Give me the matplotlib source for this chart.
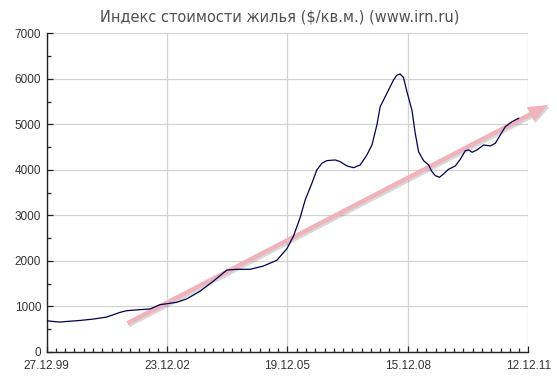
import matplotlib
matplotlib.use("Agg")
from matplotlib import pyplot as plt
from matplotlib import patheffects as pe
from matplotlib.ticker import MultipleLocator

# weeks since 27.12.99 and index value ($ per sq.m.)
weeks = [0, 17.2, 25.9, 43.2, 60.4, 77.8, 95.0, 103.7, 121, 134, 146.9, 156.9,
         168.5, 181.5, 198.7, 216, 233.4, 246.3, 263.6, 280.8, 298.2, 311.2,
         319.7, 328.4, 334.9, 343.6, 350, 356.5, 363, 373.8, 380.3, 389, 397.5,
         406.2, 414.9, 421.4, 427.8, 432.1, 440.8, 449.4, 453.5, 458, 462.3, 466.7,
         473.2, 477.5, 481.8, 488.3, 494.8, 499.2, 503.5, 509, 514.2, 520.7,
         529.4, 535.9, 542.4, 546.7, 551.1, 557.5, 566.1, 574.8, 581.3, 587.7,
         594.2, 602.9, 611.5]
price = [680, 651, 665, 687, 718, 762, 865, 902, 925, 940, 1035, 1058,
         1087, 1162, 1330, 1552, 1796, 1812, 1812, 1885, 2011, 2265,
         2540, 2950, 3338, 3705, 3998, 4145, 4203, 4218, 4180, 4086, 4048,
         4108, 4328, 4548, 4988, 5390, 5685, 5978, 6080, 6110, 6030, 5720,
         5318, 4805, 4400, 4203, 4108, 3960, 3873, 3837, 3910, 4013,
         4086, 4233, 4422, 4438, 4387, 4438, 4548, 4526, 4585, 4768,
         4950, 5060, 5135]

tick_weeks = [0, 156, 312, 468, 624]
tick_labels = ["27.12.99", "23.12.02", "19.12.05", "15.12.08", "12.12.11"]

# trend arrow: tail and tip
trend_start = (104.5, 625)
trend_end = (650, 5428)

fig = plt.figure(figsize=(5.57, 3.78), dpi=100)
ax = fig.add_axes([0.0838, 0.0696, 0.8647, 0.8418])

ax.plot(weeks, price, color="#000050", lw=0.9, zorder=4)

ann = ax.annotate("", xy=trend_end, xytext=trend_start, annotation_clip=False,
                  arrowprops=dict(arrowstyle="simple,head_length=1.45,head_width=1.15,tail_width=0.32",
                                  color="#f0b3bb", lw=0, shrinkA=0, shrinkB=0))
ann.arrow_patch.set_path_effects([pe.SimplePatchShadow(offset=(1.0, -1.3), shadow_rgbFace="#808080", alpha=0.3),
                                  pe.Normal()])
ann.set_zorder(3)

ax.set_xlim(0, 624)
ax.set_ylim(0, 7000)
ax.set_xticks(tick_weeks)
ax.set_xticklabels(tick_labels)
ax.xaxis.set_minor_locator(MultipleLocator(12))
ax.yaxis.set_major_locator(MultipleLocator(1000))
ax.yaxis.set_minor_locator(MultipleLocator(500))

ax.grid(True, which="major", color="#d2d2d2", lw=0.9)
ax.set_axisbelow(True)
for s in ["top", "right"]:
    ax.spines[s].set_visible(False)
for s in ["left", "bottom"]:
    ax.spines[s].set_color("#222222")
    ax.spines[s].set_linewidth(1.0)

ax.tick_params(which="both", direction="in", color="#222222", width=0.9,
               labelsize=8.5, labelcolor="#333333")
ax.tick_params(which="major", length=4.5, pad=4)
ax.tick_params(axis="x", which="major", pad=6)
ax.tick_params(which="minor", length=3)
for lab in ax.get_xticklabels() + ax.get_yticklabels():
    lab.set_fontfamily("Liberation Sans")

fig.text(0.503, 0.955, "Индекс стоимости жилья ($/кв.м.) (www.irn.ru)",
         ha="center", va="center", fontsize=10.5, color="#505050",
         fontfamily="DejaVu Sans")

plt.savefig("out.png", dpi=100)
